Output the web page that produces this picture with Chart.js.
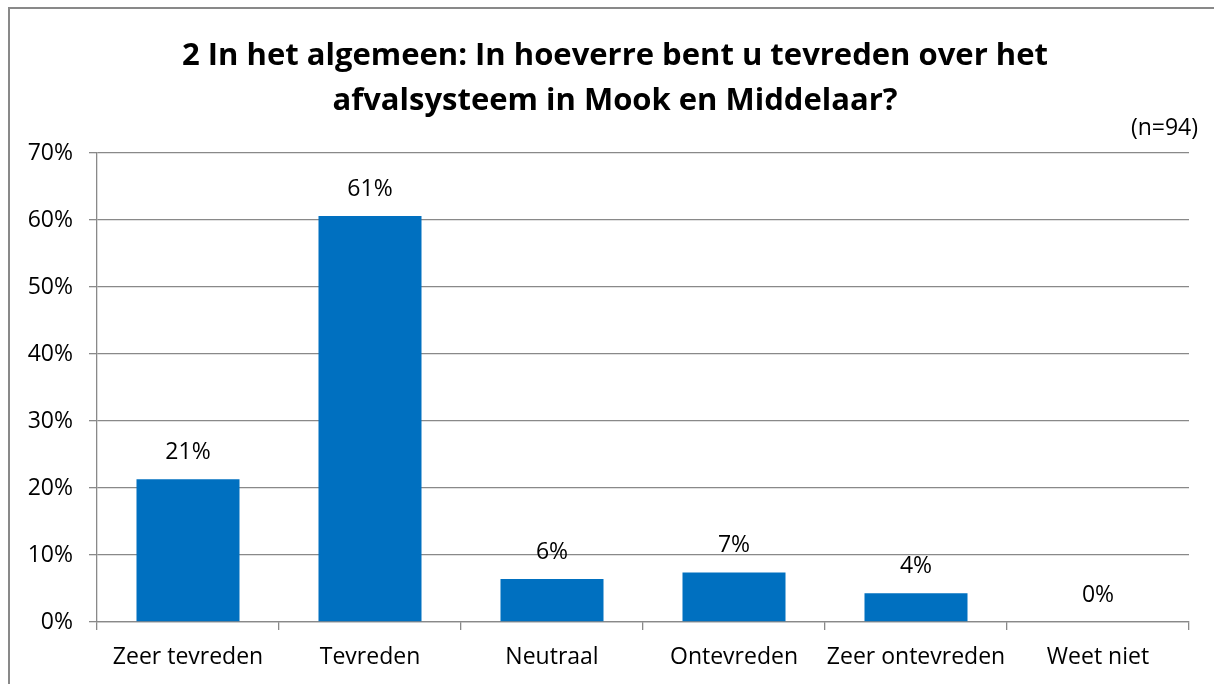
<!DOCTYPE html>
<html>
<head>
<meta charset="utf-8">
<script src="https://cdn.jsdelivr.net/npm/chart.js@4"></script>
<style>
  html, body { margin: 0; padding: 0; background: #fff; }
  #wrap { width: 1214px; height: 684px; }
</style>
</head>
<body>
<div id="wrap"><canvas id="myChart" width="1214" height="684"></canvas></div>
<script>
// Chart data
var categories = ['Zeer tevreden', 'Tevreden', 'Neutraal', 'Ontevreden', 'Zeer ontevreden', 'Weet niet'];
var percentages = [21.3, 60.6, 6.4, 7.4, 4.3, 0];
var titleLines = ['2 In het algemeen: In hoeverre bent u tevreden over het', 'afvalsysteem in Mook en Middelaar?'];
var sampleNote = '(n=94)';

var fontFamily = '"Open Sans", Lato, sans-serif';
var axisGray = '#898989';

// frame, title and note
var framePlugin = {
  id: 'frame',
  beforeDraw: function (chart) {
    var c = chart.ctx;
    c.save();
    c.fillStyle = '#fff';
    c.fillRect(0, 0, chart.width, chart.height);
    c.strokeStyle = axisGray;
    c.lineWidth = 2;
    c.strokeRect(9, 8, chart.width + 20, chart.height + 20);
    c.fillStyle = '#000';
    c.textAlign = 'center';
    c.textBaseline = 'middle';
    c.font = 'bold 31px ' + fontFamily;
    c.fillText(titleLines[0], 615, 56);
    c.fillText(titleLines[1], 615, 101);
    c.font = '23px ' + fontFamily;
    c.textAlign = 'right';
    c.fillText(sampleNote, 1198, 128);
    c.restore();
  }
};

// value labels above the bars
var valueLabels = {
  id: 'valueLabels',
  afterDatasetsDraw: function (chart) {
    var c = chart.ctx;
    var meta = chart.getDatasetMeta(0);
    c.save();
    c.fillStyle = '#000';
    c.font = '23px ' + fontFamily;
    c.textAlign = 'center';
    c.textBaseline = 'middle';
    meta.data.forEach(function (bar, i) {
      c.fillText(Math.round(percentages[i]) + '%', bar.x, bar.y - 27);
    });
    c.restore();
  }
};

var ctx = document.getElementById('myChart').getContext('2d');
var myChart = new Chart(ctx, {
  type: 'bar',
  data: {
    labels: categories,
    datasets: [{
      data: percentages,
      backgroundColor: '#0070C0',
      borderWidth: 0,
      barPercentage: 0.566,
      categoryPercentage: 1
    }]
  },
  plugins: [framePlugin, valueLabels],
  options: {
    responsive: false,
    animation: false,
    layout: {
      padding: { top: 153, right: 25, left: 0, bottom: 0 }
    },
    scales: {
      x: {
        afterFit: function (scale) { scale.height = 62; },
        grid: {
          offset: true,
          drawOnChartArea: false,
          drawTicks: true,
          tickLength: 8,
          color: axisGray,
          lineWidth: 1.3
        },
        border: { color: axisGray, width: 1.3 },
        ticks: {
          color: '#000',
          padding: 14,
          autoSkip: false,
          maxRotation: 0,
          minRotation: 0,
          font: { family: fontFamily, size: 23 }
        }
      },
      y: {
        min: 0,
        max: 70,
        afterFit: function (scale) { scale.width = 97; },
        grid: {
          color: axisGray,
          lineWidth: 1.3,
          drawTicks: true,
          tickLength: 8
        },
        border: { color: axisGray, width: 1.3 },
        ticks: {
          stepSize: 10,
          padding: 16,
          color: '#000',
          font: { family: fontFamily, size: 23 },
          callback: function (v) { return v + '%'; }
        }
      }
    },
    plugins: {
      legend: { display: false },
      tooltip: { enabled: false }
    }
  }
});
</script>
</body>
</html>
